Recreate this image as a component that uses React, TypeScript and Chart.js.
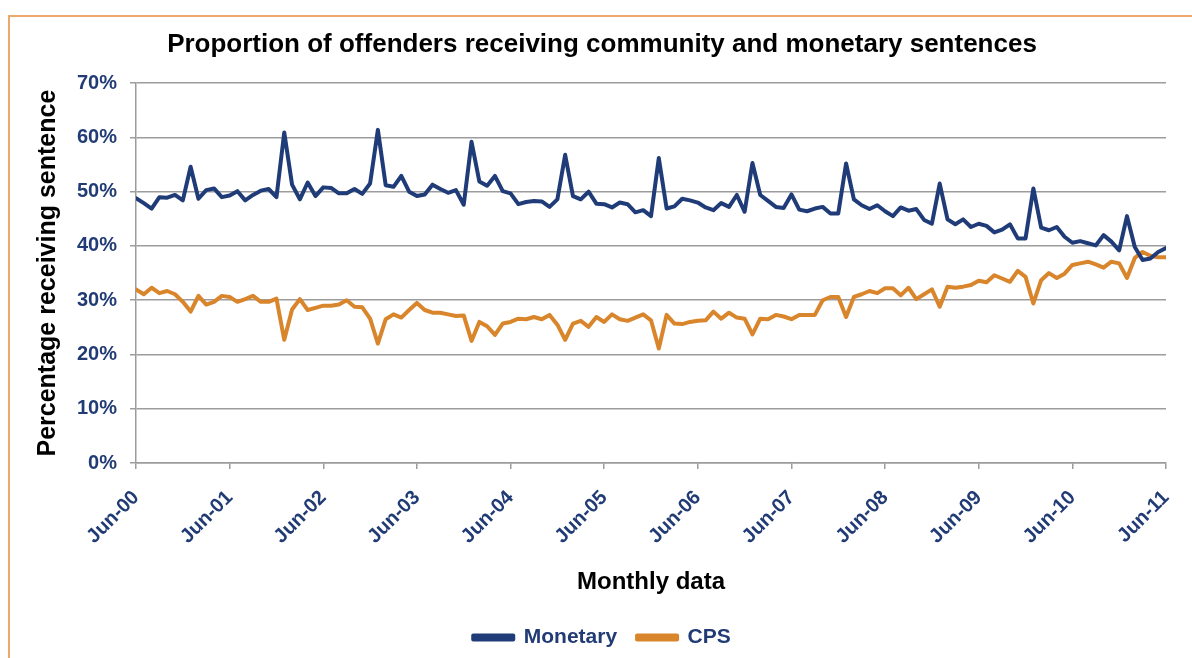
import { useEffect, useRef } from 'react';
import { Chart, registerables } from 'chart.js';

Chart.register(...registerables);

const chartTitle = 'Proportion of offenders receiving community and monetary sentences';
const yAxisTitle = 'Percentage receiving sentence';
const xAxisTitle = 'Monthly data';

// Tick labels, one per year (every 12 months starting Jun-00)
const xTickLabels = ['Jun-00', 'Jun-01', 'Jun-02', 'Jun-03', 'Jun-04', 'Jun-05', 'Jun-06', 'Jun-07', 'Jun-08', 'Jun-09', 'Jun-10', 'Jun-11'];
const yTicks = [0, 10, 20, 30, 40, 50, 60, 70];

const seriesNames = ['Monetary', 'CPS'];

// Monthly values, Jun-00 .. Jun-11 (133 months), percent
const monetary = [
  48.8, 47.9, 46.9, 49.0, 48.9, 49.4, 48.4, 54.6, 48.7, 50.3, 50.6, 49.0,
  49.3, 50.1, 48.4, 49.4, 50.2, 50.5, 49.0, 60.9, 51.3, 48.6, 51.7, 49.2,
  50.8, 50.7, 49.7, 49.7, 50.5, 49.6, 51.5, 61.4, 51.2, 50.9, 52.9, 50.0,
  49.2, 49.5, 51.3, 50.5, 49.8, 50.3, 47.6, 59.2, 51.9, 51.1, 52.9, 50.1,
  49.7, 47.7, 48.1, 48.3, 48.2, 47.2, 48.6, 56.8, 49.2, 48.6, 50.0, 47.8,
  47.7, 47.1, 48.0, 47.7, 46.2, 46.6, 45.5, 56.2, 46.9, 47.3, 48.7, 48.4,
  48.0, 47.1, 46.6, 47.9, 47.2, 49.4, 46.3, 55.3, 49.4, 48.3, 47.2, 47.0,
  49.5, 46.7, 46.4, 46.9, 47.2, 46.0, 46.0, 55.2, 48.6, 47.5, 46.8, 47.5,
  46.4, 45.5, 47.1, 46.5, 46.8, 44.8, 44.1, 51.5, 44.9, 44.0, 44.9, 43.5,
  44.1, 43.7, 42.5, 43.0, 44.0, 41.4, 41.4, 50.6, 43.4, 42.9, 43.5, 41.7,
  40.6, 40.9, 40.5, 40.1, 42.0, 40.8, 39.2, 45.5, 39.8, 37.4, 37.7, 38.9,
  39.6,
];

const cps = [
  32.0, 31.1, 32.3, 31.3, 31.7, 31.1, 29.7, 27.9, 30.8, 29.2, 29.7, 30.8,
  30.6, 29.7, 30.2, 30.8, 29.7, 29.7, 30.3, 22.7, 28.3, 30.2, 28.2, 28.6,
  29.0, 29.0, 29.2, 30.0, 28.8, 28.7, 26.6, 22.0, 26.5, 27.4, 26.8, 28.2,
  29.5, 28.2, 27.7, 27.7, 27.4, 27.1, 27.2, 22.5, 26.0, 25.2, 23.6, 25.7,
  26.0, 26.6, 26.5, 26.9, 26.5, 27.3, 25.5, 22.7, 25.7, 26.2, 25.1, 26.9,
  26.0, 27.4, 26.5, 26.2, 26.8, 27.4, 26.3, 21.1, 27.3, 25.7, 25.6, 26.0,
  26.2, 26.3, 27.9, 26.6, 27.7, 26.8, 26.6, 23.7, 26.6, 26.5, 27.3, 27.0,
  26.5, 27.3, 27.3, 27.3, 30.0, 30.6, 30.6, 26.9, 30.6, 31.1, 31.7, 31.3,
  32.2, 32.2, 30.9, 32.3, 30.2, 31.1, 32.0, 28.8, 32.5, 32.3, 32.5, 32.8,
  33.6, 33.3, 34.6, 34.0, 33.4, 35.4, 34.3, 29.4, 33.7, 35.0, 34.1, 34.9,
  36.5, 36.8, 37.1, 36.6, 36.0, 37.1, 36.8, 34.1, 37.8, 38.9, 38.2, 37.9,
  37.9,
];

const BLUE = '#203C78';
const ORANGE = '#D9852B';
const LABEL_BLUE = '#213B74';
const GRID = '#9C9C9C';
const FONT = '"Liberation Sans", Arial, sans-serif';

export default function App() {
  const canvasRef = useRef<HTMLCanvasElement | null>(null);

  useEffect(() => {
    const canvas = canvasRef.current;
    if (!canvas) return;
    const toPoints = (arr: number[]) => arr.map((v, i) => ({ x: i, y: v }));
    const lastIndex = (xTickLabels.length - 1) * 12;

    const chart = new Chart(canvas, {
      type: 'line',
      data: {
        datasets: [
          {
            label: seriesNames[0],
            data: toPoints(monetary),
            borderColor: BLUE,
            backgroundColor: BLUE,
            borderWidth: 4,
            pointRadius: 0,
            tension: 0,
            borderJoinStyle: 'round',
            borderCapStyle: 'round',
          },
          {
            label: seriesNames[1],
            data: toPoints(cps),
            borderColor: ORANGE,
            backgroundColor: ORANGE,
            borderWidth: 4,
            pointRadius: 0,
            tension: 0,
            borderJoinStyle: 'round',
            borderCapStyle: 'round',
          },
        ],
      },
      options: {
        responsive: false,
        animation: false,
        devicePixelRatio: 1,
        layout: { padding: { top: 15, left: 38, right: 26, bottom: 0 } },
        font: { family: FONT },
        plugins: {
          title: {
            display: true,
            text: chartTitle,
            color: '#000',
            font: { family: FONT, size: 26, weight: 'bold' },
            padding: { top: 14, bottom: 23 },
          },
          legend: {
            display: true,
            position: 'bottom',
            labels: {
              color: LABEL_BLUE,
              font: { family: FONT, size: 21, weight: 'bold' },
              boxWidth: 40,
              boxHeight: 4,
              padding: 20,
            },
          },
          tooltip: { enabled: false },
        },
        scales: {
          x: {
            type: 'linear',
            min: 0,
            max: lastIndex,
            afterFit: (scale: any) => {
              scale.height = 144;
              scale.paddingRight = 0;
            },
            border: { display: true, color: GRID, width: 1.5 },
            grid: {
              drawOnChartArea: false,
              drawTicks: true,
              tickLength: 6,
              color: GRID,
              lineWidth: 1.5,
            },
            ticks: {
              stepSize: 12,
              autoSkip: false,
              minRotation: 45,
              maxRotation: 45,
              padding: 17,
              color: LABEL_BLUE,
              font: { family: FONT, size: 20, weight: 'bold' },
              callback: (v: any) => {
                const k = Math.round(Number(v) / 12);
                return Number(v) % 12 === 0 ? xTickLabels[k] : '';
              },
            },
            title: {
              display: true,
              text: xAxisTitle,
              color: '#000',
              font: { family: FONT, size: 24, weight: 'bold' },
              padding: { top: 0, bottom: 10 },
            },
          },
          y: {
            min: yTicks[0],
            max: yTicks[yTicks.length - 1],
            afterFit: (scale: any) => {
              scale.width = 98;
            },
            border: { display: true, color: GRID, width: 1.5 },
            grid: {
              drawOnChartArea: true,
              drawTicks: true,
              tickLength: 6,
              color: GRID,
              lineWidth: 1.5,
            },
            ticks: {
              stepSize: 10,
              padding: 13,
              color: LABEL_BLUE,
              font: { family: FONT, size: 20, weight: 'bold' },
              callback: (v: any) => `${v}%`,
            },
            title: {
              display: true,
              text: yAxisTitle,
              color: '#000',
              font: { family: FONT, size: 25, weight: 'bold' },
              padding: { top: -5, bottom: 0 },
            },
          },
        },
      },
    } as any);

    return () => chart.destroy();
  }, []);

  return (
    <div
      style={{
        position: 'fixed',
        left: 0,
        top: 0,
        width: 1192,
        height: 658,
        overflow: 'hidden',
        background: '#fff',
      }}
    >
      <div style={{ position: 'absolute', left: 8, top: 15, width: 1184, height: 2, background: '#EBAA6C' }} />
      <div style={{ position: 'absolute', left: 8, top: 15, width: 2, height: 643, background: '#EBAA6C' }} />
      <canvas
        ref={canvasRef}
        width={1192}
        height={658}
        style={{ position: 'absolute', left: 0, top: 0, display: 'block' }}
      />
    </div>
  );
}
